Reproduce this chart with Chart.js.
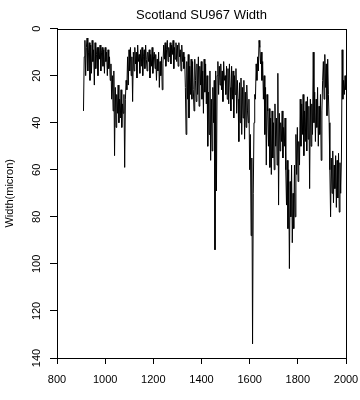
<!DOCTYPE html>
<html>
<head>
<meta charset="utf-8">
<script src="https://cdn.jsdelivr.net/npm/chart.js@4/dist/chart.umd.min.js"></script>
<style>
  html, body { margin: 0; padding: 0; background: #fff; }
  #wrap { width: 360px; height: 400px; }
</style>
</head>
<body>
<div id="wrap"><canvas id="myChart" width="360" height="400"></canvas></div>
<script>
// ring width series, one value every 3 years starting at 910
const firstYear = 910
const yearStep = 3
const widths = [
  35, 12, 5, 20, 8, 4, 18, 10, 6, 22,        // 910-937
  7, 19, 5, 14, 9, 24, 6, 17, 11, 8,         // 940-967
  20, 8, 13, 7, 18, 10, 8, 16, 9, 19,        // 970-997
  8, 14, 10, 20, 9, 17, 12, 22, 15, 30,      // 1000-1027
  20, 35, 18, 54, 25, 42, 28, 36, 24, 40,    // 1030-1057
  30, 38, 26, 42, 32, 36, 28, 59, 30, 22,    // 1060-1087
  26, 12, 24, 9, 18, 8, 20, 12, 31, 10,      // 1090-1117
  18, 8, 15, 10, 21, 7, 14, 11, 19, 9,       // 1120-1147
  16, 8, 20, 12, 9, 17, 7, 13, 18, 10,       // 1150-1177
  14, 9, 21, 11, 16, 8, 19, 12, 10, 17,      // 1180-1207
  11, 22, 13, 18, 10, 25, 14, 20, 12, 26,    // 1210-1237
  15, 7, 13, 6, 16, 9, 5, 14, 8, 12,         // 1240-1267
  6, 15, 7, 11, 5, 17, 8, 13, 6, 14,         // 1270-1297
  7, 16, 6, 12, 9, 18, 7, 14, 10, 17,        // 1300-1327
  12, 25, 45, 14, 30, 11, 38, 16, 28, 13,    // 1330-1357
  30, 14, 26, 35, 13, 22, 31, 15, 28, 12,    // 1360-1387
  33, 16, 24, 14, 30, 18, 36, 13, 27, 15,    // 1390-1417
  32, 20, 50, 27, 45, 18, 56, 30, 52, 25,    // 1420-1447
  40, 22, 94, 18, 69, 20, 14, 28, 16, 24,    // 1450-1477
  15, 26, 18, 31, 14, 22, 20, 28, 16, 30,    // 1480-1507
  17, 32, 15, 25, 35, 16, 30, 18, 38, 20,    // 1510-1537
  28, 17, 36, 22, 30, 48, 23, 40, 21, 45,    // 1540-1567
  25, 38, 22, 47, 27, 42, 24, 35, 40, 30,    // 1570-1597
  60, 45, 88, 55, 134, 70, 40, 28, 30, 15,   // 1600-1627
  22, 12, 18, 5, 8, 15, 10, 22, 14, 30,      // 1630-1657
  20, 45, 25, 58, 28, 35, 50, 34, 59, 38,    // 1660-1687
  62, 35, 55, 40, 60, 32, 50, 38, 58, 19,    // 1690-1717
  75, 36, 52, 40, 48, 35, 55, 42, 50, 38,    // 1720-1747
  60, 75, 56, 85, 60, 102, 65, 80, 58, 91,   // 1750-1777
  70, 85, 58, 80, 45, 62, 42, 65, 48, 58,    // 1780-1807
  30, 50, 32, 45, 28, 54, 35, 48, 31, 52,    // 1810-1837
  29, 47, 33, 68, 30, 50, 32, 45, 10, 40,    // 1840-1867
  27, 48, 30, 42, 25, 50, 33, 45, 28, 56,    // 1870-1897
  35, 22, 14, 30, 11, 25, 15, 37, 13, 28,    // 1900-1927
  40, 60, 80, 55, 70, 52, 74, 58, 68, 54,    // 1930-1957
  76, 56, 72, 53, 78, 57, 70, 55, 9, 30,     // 1960-1987
  22, 28, 20, 26                             // 1990-1999
]
const yTickValues = [0, 20, 40, 60, 80, 100, 120, 140]

const points = widths.map((w, i) => ({ x: firstYear + i * yearStep, y: w }))

const font = 'Liberation Sans, Arial, sans-serif'

// box around the plot area + rotated y tick labels (R style)
const framePlugin = {
  id: 'frame',
  afterDraw(chart) {
    const { ctx, chartArea: a, scales } = chart
    ctx.save()
    ctx.strokeStyle = '#000'
    ctx.lineWidth = 1
    ctx.strokeRect(Math.round(a.left) + 0.5, Math.round(a.top) + 0.5,
      Math.round(a.right - a.left), Math.round(a.bottom - a.top))
    ctx.fillStyle = '#000'
    ctx.font = '11px ' + font
    ctx.textAlign = 'center'
    ctx.textBaseline = 'middle'
    yTickValues.forEach(v => {
      const py = scales.y.getPixelForValue(v)
      ctx.save()
      ctx.translate(37, py)
      ctx.rotate(-Math.PI / 2)
      ctx.fillText(String(v), 0, 0)
      ctx.restore()
    })
    ctx.restore()
  }
}

new Chart(document.getElementById('myChart'), {
  type: 'line',
  data: {
    datasets: [
      {
        label: 'Width',
        data: points,
        borderColor: '#000',
        borderWidth: 1,
        pointRadius: 0,
        tension: 0,
        fill: false
      }
    ]
  },
  options: {
    responsive: false,
    animation: false,
    devicePixelRatio: 1,
    layout: { padding: { left: 0, right: 14, top: 0, bottom: 0 } },
    plugins: {
      legend: { display: false },
      tooltip: { enabled: false },
      title: {
        display: true,
        text: 'Scotland SU967 Width',
        color: '#000',
        fullSize: false,
        font: { family: font, size: 13, weight: 'normal' },
        padding: { top: 8, bottom: 5 }
      }
    },
    scales: {
      x: {
        type: 'linear',
        min: 800,
        max: 2000,
        ticks: {
          stepSize: 200,
          color: '#000',
          padding: 9,
          maxRotation: 0,
          font: { family: font, size: 11 },
          callback: v => String(v)
        },
        grid: { drawOnChartArea: false, drawTicks: true, tickLength: 6, color: '#000' },
        border: { display: true, color: '#000' },
        afterFit: s => {
          s.height = 42
          s.paddingLeft = 0
          s.paddingRight = 0
        }
      },
      y: {
        reverse: true,
        min: 0,
        max: 140,
        ticks: { stepSize: 20, color: 'rgba(0,0,0,0)', font: { family: font, size: 11 } },
        grid: { drawOnChartArea: false, drawTicks: true, tickLength: 7, color: '#000' },
        border: { display: true, color: '#000' },
        title: {
          display: true,
          text: 'Width(micron)',
          color: '#000',
          font: { family: font, size: 11 },
          padding: { top: 3, bottom: 0 }
        },
        afterFit: s => { s.width = 57 }
      }
    }
  },
  plugins: [framePlugin]
})
</script>
</body>
</html>
